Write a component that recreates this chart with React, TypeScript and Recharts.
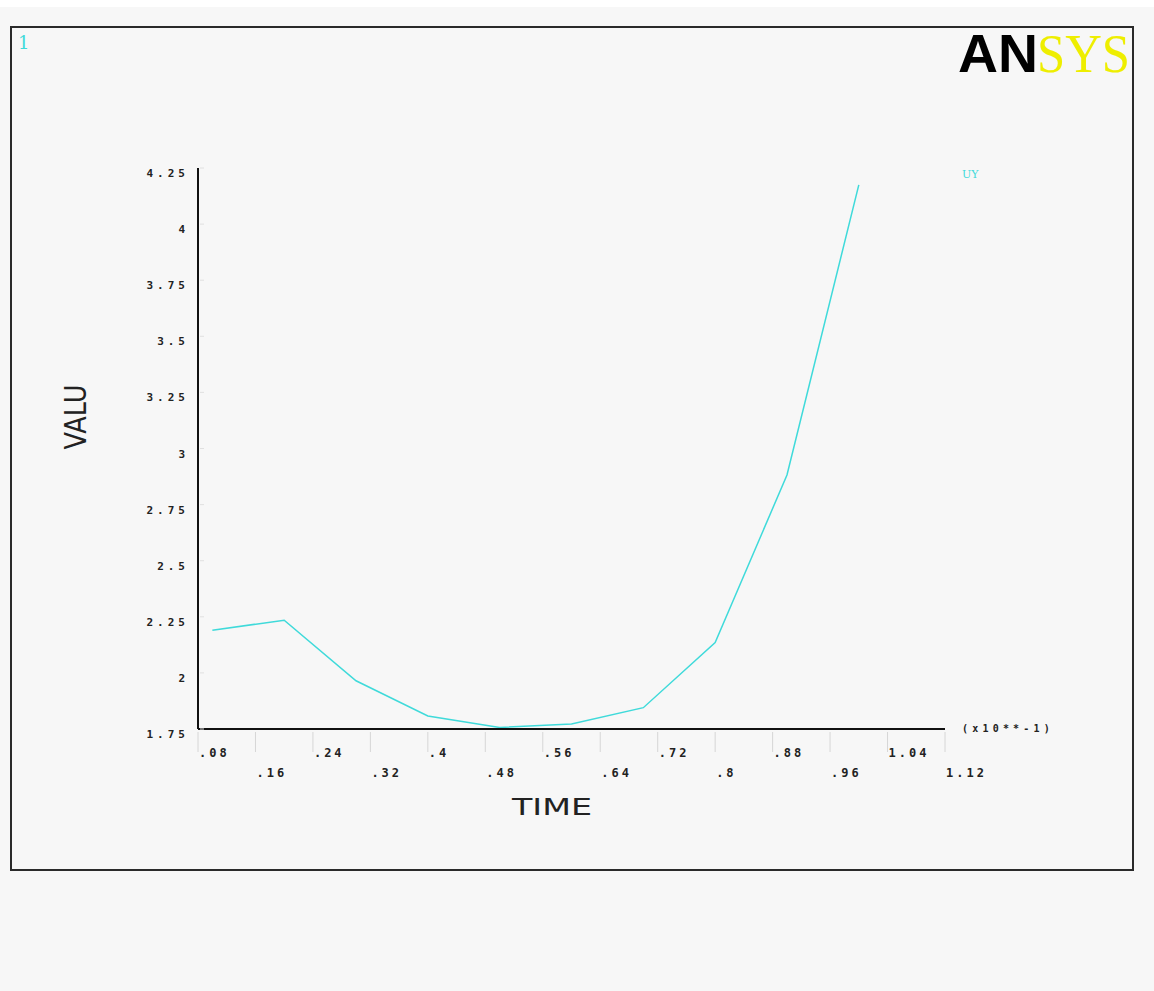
import { Line, LineChart, XAxis, YAxis } from "recharts";

const times = [0.1, 0.2, 0.3, 0.4, 0.5, 0.6, 0.7, 0.8, 0.9, 1.0];
const uyValues = [2.19, 2.235, 1.965, 1.808, 1.757, 1.772, 1.845, 2.135, 2.882, 4.175];

const xTicks = [0.08, 0.16, 0.24, 0.32, 0.4, 0.48, 0.56, 0.64, 0.72, 0.8, 0.88, 0.96, 1.04, 1.12];
const xTickLabels = [".08", ".16", ".24", ".32", ".4", ".48", ".56", ".64", ".72", ".8", ".88", ".96", "1.04", "1.12"];
const yTicks = [1.75, 2, 2.25, 2.5, 2.75, 3, 3.25, 3.5, 3.75, 4, 4.25];
const yTickLabels = ["1.75", "2", "2.25", "2.5", "2.75", "3", "3.25", "3.5", "3.75", "4", "4.25"];

const data = times.map((t, i) => ({ time: t, uy: uyValues[i] }));

const TICK_FONT = "'DejaVu Sans Mono', monospace";
const CYAN = "#3fdada";

function XTick(props: any) {
  const { x, y, index } = props;
  const row = index % 2 === 0 ? 28 : 48;
  return (
    <g>
      <line x1={x} y1={y + 3} x2={x} y2={y + 23} stroke="#d6d6d6" strokeWidth={1} />
      <text
        x={x + 1}
        y={y + row}
        textAnchor="start"
        fontFamily={TICK_FONT}
        fontWeight="bold"
        fontSize={12}
        letterSpacing={3}
        fill="#222"
      >
        {xTickLabels[index]}
      </text>
    </g>
  );
}

function YTick(props: any) {
  const { x, y, index } = props;
  return (
    <g>
      <line x1={x + 2} y1={y} x2={x + 6} y2={y} stroke="#e0e0e0" strokeWidth={1} />
      <text
        x={x - 9}
        y={y + 9}
        textAnchor="end"
        fontFamily={TICK_FONT}
        fontWeight="bold"
        fontSize={11}
        letterSpacing={4}
        fill="#222"
      >
        {yTickLabels[index]}
      </text>
    </g>
  );
}

export default function App() {
  return (
    <div
      style={{
        position: "absolute",
        left: 0,
        top: 0,
        width: 1154,
        height: 991,
        background: "#f7f7f7",
      }}
    >
      <svg width={1154} height={991} style={{ position: "absolute", left: 0, top: 0 }}>
        <rect x={0} y={0} width={1154} height={7} fill="#ffffff" />
        <rect x={11} y={27} width={1122} height={843} fill="none" stroke="#2a2a2a" strokeWidth={2} />
        <text x={18} y={49} fontFamily="'DejaVu Serif', serif" fontSize={18} fill={CYAN}>
          1
        </text>
        <text y={72} fontSize={54}>
          <tspan
            x={958}
            fontFamily="'Liberation Sans', Arial, sans-serif"
            fontWeight="bold"
            fill="#000"
            textLength={80}
            lengthAdjust="spacingAndGlyphs"
          >
            AN
          </tspan>
          <tspan
            x={1037}
            fontFamily="'Liberation Serif', 'Times New Roman', serif"
            fill="#eeee00"
            textLength={93}
            lengthAdjust="spacingAndGlyphs"
          >
            SYS
          </tspan>
        </text>
        <text x={962} y={178} fontFamily="'DejaVu Serif', serif" fontSize={11} fill={CYAN}>
          UY
        </text>
        <text
          x={962}
          y={732}
          fontFamily={TICK_FONT}
          fontWeight="bold"
          fontSize={10}
          letterSpacing={4.2}
          fill="#222"
        >
          (x10**-1)
        </text>
        <text
          x={552}
          y={815}
          textAnchor="middle"
          fontFamily="'DejaVu Sans', sans-serif"
          fontSize={23}
          fill="#222"
          textLength={80}
          lengthAdjust="spacingAndGlyphs"
        >
          TIME
        </text>
        <text
          transform="translate(86 417) rotate(-90)"
          textAnchor="middle"
          fontFamily="'DejaVu Sans', sans-serif"
          fontSize={30}
          fill="#222"
          textLength={65}
          lengthAdjust="spacingAndGlyphs"
        >
          VALU
        </text>
      </svg>
      <div style={{ position: "absolute", left: 0, top: 0 }}>
        <LineChart
          width={1154}
          height={991}
          data={data}
          margin={{ top: 168, right: 209, bottom: 202, left: 138 }}
        >
          <XAxis
            dataKey="time"
            type="number"
            domain={[0.08, 1.12]}
            ticks={xTicks}
            interval={0}
            height={60}
            axisLine={{ stroke: "#111", strokeWidth: 2 }}
            tickLine={false}
            tickSize={0}
            tickMargin={0}
            tick={<XTick />}
            allowDataOverflow
          />
          <YAxis
            type="number"
            domain={[1.75, 4.25]}
            ticks={yTicks}
            interval={0}
            width={60}
            axisLine={{ stroke: "#111", strokeWidth: 2 }}
            tickLine={false}
            tickSize={0}
            tickMargin={0}
            tick={<YTick />}
            allowDataOverflow
          />
          <Line
            dataKey="uy"
            type="linear"
            stroke={CYAN}
            strokeWidth={1.5}
            dot={false}
            isAnimationActive={false}
          />
        </LineChart>
      </div>
    </div>
  );
}
